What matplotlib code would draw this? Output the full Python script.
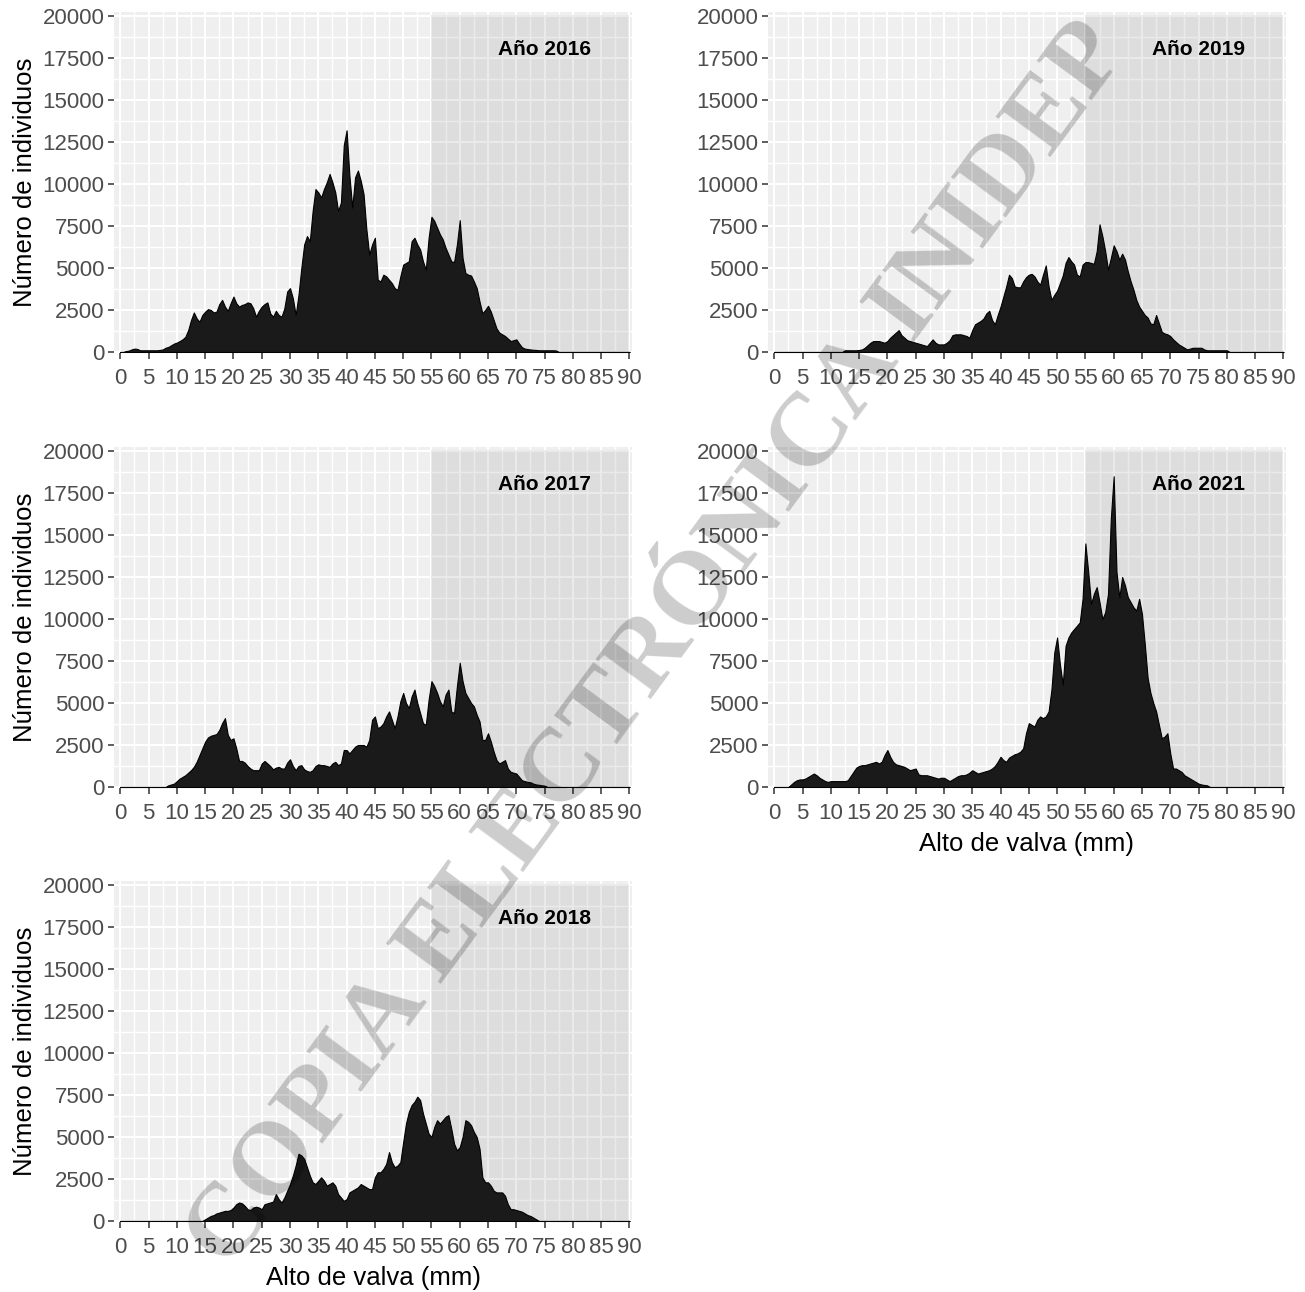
import numpy as np
import matplotlib.pyplot as plt
from matplotlib.ticker import MultipleLocator

plt.rcParams['font.family'] = ['Liberation Sans', 'DejaVu Sans']

# Clases de talla (alto de valva, mm) cada 0.5 mm
alto_mm = np.arange(0, 90.5, 0.5)

n_2016 = [
    0, 0, 50, 80, 150, 200, 180, 100, 100, 100,
    100, 100, 100, 100, 120, 150, 250, 300, 400, 500,
    560, 650, 750, 900, 1300, 1900, 2350, 2000, 1800, 2200,
    2400, 2550, 2500, 2350, 2400, 2850, 3100, 2700, 2450, 2900,
    3300, 2900, 2700, 2800, 2850, 2950, 2900, 2600, 2100, 2450,
    2700, 2850, 2950, 2300, 2100, 2450, 2200, 2100, 2600, 3600,
    3800, 3200, 2200, 3400, 5000, 6400, 6900, 6600, 8400, 9700,
    9500, 9200, 9700, 10100, 10600, 10100, 9500, 8400, 8900, 12300,
    13200, 10500, 8600, 10400, 10800, 10200, 9400, 7300, 5800, 6400,
    6800, 4300, 4200, 4600, 4500, 4300, 4100, 3800, 3700, 4500,
    5200, 5300, 5400, 6600, 6800, 6400, 6100, 5400, 4900, 6800,
    8050, 7800, 7400, 7000, 6700, 6200, 5800, 5400, 5350, 6400,
    7850, 5600, 4700, 4600, 4550, 4200, 3800, 3000, 2300, 2500,
    2750, 2400, 1900, 1400, 1150, 1050, 950, 800, 650, 700,
    750, 500, 280, 200, 170, 150, 130, 120, 100, 100,
    100, 100, 100, 100, 90, 0, 0, 0, 0, 0,
    0, 0, 0, 0, 0, 0, 0, 0, 0, 0,
    0, 0, 0, 0, 0, 0, 0, 0, 0, 0,
    0,
]

n_2019 = [
    0, 0, 0, 0, 0, 0, 0, 0, 0, 0,
    0, 0, 0, 0, 0, 0, 0, 0, 0, 0,
    0, 0, 0, 0, 0, 100, 100, 100, 100, 100,
    120, 150, 250, 400, 550, 650, 650, 650, 600, 550,
    650, 850, 1000, 1150, 1300, 1000, 850, 700, 650, 600,
    550, 500, 450, 400, 350, 550, 750, 550, 450, 450,
    450, 550, 700, 1000, 1050, 1050, 1050, 1000, 950, 850,
    1300, 1650, 1750, 1850, 2000, 2300, 2450, 1900, 1650, 2200,
    2700, 3300, 3900, 4600, 4400, 3900, 3850, 3850, 4200, 4450,
    4600, 4650, 4500, 4200, 4000, 4600, 5150, 3900, 3100, 3400,
    3650, 4100, 4550, 5300, 5650, 5400, 5200, 4600, 4500, 5200,
    5350, 5350, 5300, 5250, 6000, 7600, 6900, 6000, 4900, 5600,
    6350, 6000, 5500, 5850, 5500, 4800, 4200, 3700, 3100, 2700,
    2450, 2200, 2050, 1700, 1650, 2200, 1700, 1200, 1100, 1050,
    950, 750, 600, 450, 350, 250, 150, 200, 250, 250,
    250, 250, 150, 100, 100, 100, 100, 100, 100, 100,
    100, 0, 0, 0, 0, 0, 0, 0, 0, 0,
    0, 0, 0, 0, 0, 0, 0, 0, 0, 0,
    0,
]

n_2017 = [
    0, 0, 0, 0, 0, 0, 0, 0, 0, 0,
    0, 0, 0, 0, 0, 0, 0, 100, 150, 200,
    350, 500, 600, 700, 850, 1000, 1200, 1500, 1900, 2300,
    2700, 2950, 3050, 3100, 3150, 3400, 3800, 4100, 3100, 2800,
    2900, 2300, 1550, 1550, 1450, 1250, 1100, 1000, 1000, 1000,
    1400, 1550, 1400, 1250, 1050, 1150, 1200, 1100, 1100, 1450,
    1650, 1250, 1000, 1250, 1300, 1050, 950, 900, 1000, 1250,
    1350, 1300, 1300, 1250, 1200, 1400, 1500, 1300, 1400, 2200,
    2200, 2000, 2200, 2400, 2500, 2500, 2500, 2400, 2800, 4000,
    4200, 3500, 3600, 3800, 4200, 4500, 4000, 3500, 4200, 5100,
    5600, 5000, 4700, 5400, 5800, 5000, 4400, 3800, 3700, 5200,
    6300, 6000, 5600, 5100, 4800, 5500, 5800, 4500, 4400, 6000,
    7400, 6300, 5600, 5300, 5000, 4800, 4300, 3900, 2800, 2800,
    3200, 2700, 2100, 1600, 1400, 1500, 1600, 1100, 900, 850,
    800, 600, 400, 350, 300, 280, 200, 150, 130, 100,
    80, 0, 0, 0, 0, 0, 0, 0, 0, 0,
    0, 0, 0, 0, 0, 0, 0, 0, 0, 0,
    0, 0, 0, 0, 0, 0, 0, 0, 0, 0,
    0,
]

n_2021 = [
    0, 0, 0, 0, 0, 0, 150, 300, 400, 450,
    450, 500, 600, 700, 800, 700, 550, 450, 350, 300,
    350, 350, 350, 350, 350, 350, 400, 650, 900, 1150,
    1250, 1300, 1300, 1350, 1400, 1450, 1500, 1400, 1500, 1900,
    2200, 1800, 1500, 1350, 1300, 1250, 1200, 1100, 1000, 1050,
    1100, 750, 700, 700, 700, 650, 600, 550, 500, 550,
    550, 450, 350, 450, 550, 650, 700, 700, 750, 850,
    1000, 900, 800, 850, 900, 950, 1000, 1100, 1250, 1500,
    1800, 1600, 1500, 1750, 1850, 1950, 2000, 2100, 2300, 3200,
    3800, 3700, 3600, 4000, 4200, 4100, 4200, 4500, 5800, 8000,
    8900, 7300, 6100, 8400, 8900, 9200, 9400, 9600, 9800, 11200,
    14500, 12800, 10900, 11500, 11900, 11000, 10000, 10400, 11500, 16000,
    18500, 12800, 11300, 12500, 12000, 11300, 11000, 10700, 10500, 11200,
    10300, 8500, 6500, 5600, 5000, 4500, 3700, 2900, 3000, 3200,
    2000, 1100, 1100, 1000, 900, 700, 600, 500, 400, 300,
    200, 150, 120, 100, 0, 0, 0, 0, 0, 0,
    0, 0, 0, 0, 0, 0, 0, 0, 0, 0,
    0, 0, 0, 0, 0, 0, 0, 0, 0, 0,
    0,
]

n_2018 = [
    0, 0, 0, 0, 0, 0, 0, 0, 0, 0,
    0, 0, 0, 0, 0, 0, 0, 0, 0, 0,
    0, 0, 0, 0, 0, 0, 0, 0, 0, 0,
    100, 200, 300, 350, 450, 500, 550, 600, 600, 650,
    800, 1000, 1100, 1050, 900, 700, 650, 800, 850, 800,
    700, 1000, 1050, 1100, 1150, 1600, 1300, 1100, 1400, 1800,
    2200, 2700, 3300, 4000, 3900, 3700, 3200, 2700, 2300, 2200,
    2400, 2600, 2400, 2100, 2200, 2300, 2100, 1600, 1400, 1200,
    1300, 1700, 1800, 1900, 2000, 2200, 2100, 2000, 1900, 1900,
    2600, 2900, 2900, 3100, 3400, 4100, 3500, 3200, 3300, 3500,
    4700, 5800, 6500, 6900, 7100, 7400, 7200, 6400, 5800, 5200,
    5000, 5600, 6000, 5800, 6000, 6200, 6300, 5500, 4600, 4200,
    4400, 5000, 6000, 5900, 5700, 5300, 5000, 4300, 2600, 2300,
    2300, 2100, 1800, 1700, 1700, 1700, 1500, 1000, 700, 700,
    650, 600, 550, 450, 350, 300, 200, 100, 0, 0,
    0, 0, 0, 0, 0, 0, 0, 0, 0, 0,
    0, 0, 0, 0, 0, 0, 0, 0, 0, 0,
    0, 0, 0, 0, 0, 0, 0, 0, 0, 0,
    0,
]

# talla mínima de captura: zona sombreada
talla_min, talla_max = 55, 90

fig = plt.figure(figsize=(13.05, 12.92), dpi=100)

col_left = [0.0874, 0.5885]
row_bottom = [0.7268, 0.3901, 0.0542]
ax_w, ax_h = 0.3969, 0.2639

# (fila, columna, datos, etiqueta, eje y con título, eje x con título)
paneles = [
    (0, 0, n_2016, 'Año 2016', True, False),
    (0, 1, n_2019, 'Año 2019', False, False),
    (1, 0, n_2017, 'Año 2017', True, False),
    (1, 1, n_2021, 'Año 2021', False, True),
    (2, 0, n_2018, 'Año 2018', True, True),
]

for fila, col, n, etiqueta, con_ylab, con_xlab in paneles:
    ax = fig.add_axes([col_left[col], row_bottom[fila], ax_w, ax_h])
    ax.set_facecolor('#EFEFEF')
    for s in ax.spines.values():
        s.set_visible(False)

    ax.set_xlim(-1.1, 90.45)
    ax.set_ylim(-60, 20240)
    ax.xaxis.set_major_locator(MultipleLocator(5))
    ax.xaxis.set_minor_locator(MultipleLocator(2.5))
    ax.yaxis.set_major_locator(MultipleLocator(2500))
    ax.yaxis.set_minor_locator(MultipleLocator(1250))
    ax.grid(which='major', color='white', lw=1.5)
    ax.grid(which='minor', color='white', lw=1.0)
    ax.set_axisbelow(True)

    ax.tick_params(which='major', length=4, width=1.1, color='#333333',
                   labelcolor='#4D4D4D', labelsize=16, pad=3)
    ax.tick_params(axis='x', which='major', pad=7)
    ax.tick_params(which='minor', length=0)
    ax.set_xticks(np.arange(0, 91, 5))
    ax.set_xticklabels([str(v) for v in range(0, 91, 5)])

    ax.axvspan(talla_min, talla_max, ymin=0.003, ymax=0.9915,
               color='#999999', alpha=0.2, lw=0, zorder=1)

    ax.fill_between(alto_mm, n, 0, facecolor='#1A1A1A', edgecolor='black',
                    lw=0.8, zorder=3)

    ax.text(75, 18000, etiqueta, ha='center', va='center', fontsize=15,
            fontweight='bold', color='black', zorder=4)

    if con_ylab:
        ax.set_ylabel('Número de individuos', fontsize=18.5, color='black')
        ax.yaxis.set_label_coords(-0.148, 0.5)
    if con_xlab:
        ax.set_xlabel('Alto de valva (mm)', fontsize=18.5, color='black')
        ax.xaxis.set_label_coords(0.5, -0.13)

# sello de copia sobre toda la figura
fig.text(0.505, 0.5, 'COPIA ELECTRÓNICA INIDEP', rotation=53.6,
         ha='center', va='center', rotation_mode='anchor',
         family=['Liberation Serif', 'DejaVu Serif'], fontweight='bold',
         fontsize=75, color='black', alpha=0.2, zorder=10)

fig.savefig('out.png', dpi=100)
